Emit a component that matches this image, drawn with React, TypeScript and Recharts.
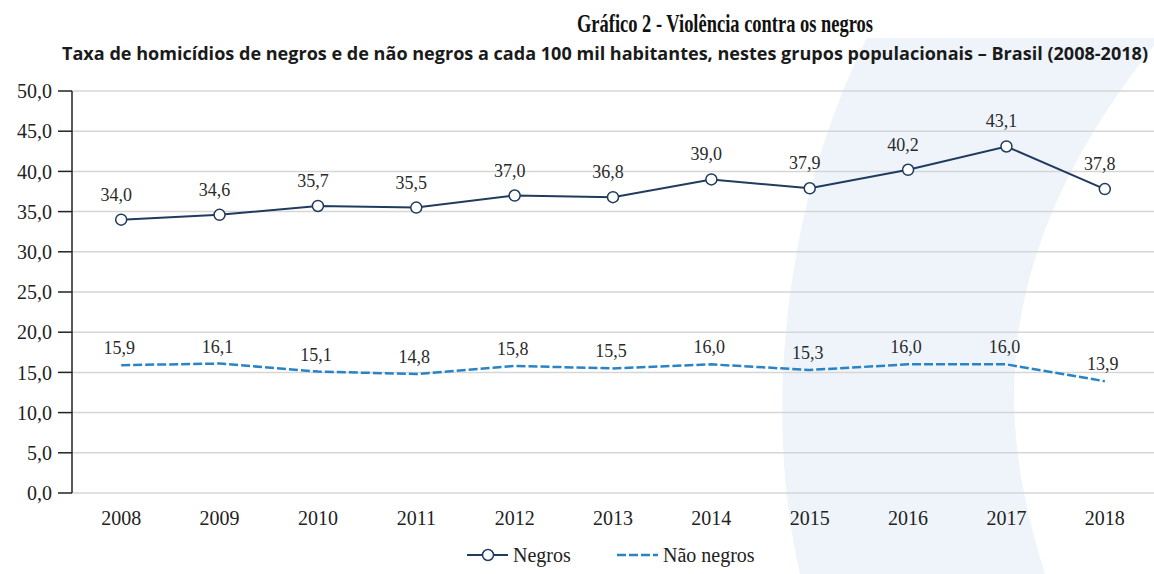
import React from 'react'
import { LineChart, Line, XAxis, YAxis, CartesianGrid, LabelList } from 'recharts'

const years = ['2008', '2009', '2010', '2011', '2012', '2013', '2014', '2015', '2016', '2017', '2018']
const negros = [34.0, 34.6, 35.7, 35.5, 37.0, 36.8, 39.0, 37.9, 40.2, 43.1, 37.8]
const naoNegros = [15.9, 16.1, 15.1, 14.8, 15.8, 15.5, 16.0, 15.3, 16.0, 16.0, 13.9]
const yTicks = [0, 5, 10, 15, 20, 25, 30, 35, 40, 45, 50]
const seriesNames = ['Negros', 'Não negros']

const NAVY = '#203b5e'
const BLUE = '#2a83c4'
const SERIF = '"Liberation Serif", "DejaVu Serif", serif'
const SANS = '"Open Sans", "Noto Sans", sans-serif'

const fmt = (v: number) => v.toFixed(1).replace('.', ',')

// each year sits in the middle of its band: 0.5, 1.5, ...
const data = years.map((y, i) => ({ year: y, idx: i + 0.5, negros: negros[i], naoNegros: naoNegros[i] }))
const bandEdges = years.map((_, i) => i).concat([years.length])
const bandMiddles = years.map((_, i) => i + 0.5)

function makeLabel(dy: number, dx: number) {
  return (props: any) => {
    const { x, y, value } = props
    return (
      <text x={x + dx} y={y - dy} textAnchor="middle" fontFamily={SERIF} fontSize={18} fill="#2a2a2a">
        {fmt(value)}
      </text>
    )
  }
}

export default function App() {
  return (
    <div style={{ position: 'absolute', left: 0, top: 0, width: 1154, height: 574, background: '#fff', overflow: 'hidden' }}>
      <svg width={1154} height={574} style={{ position: 'absolute', left: 0, top: 0 }}>
        {/* decorative crescent in background */}
        <path
          d="M 867 38 C 790 190 760 400 800 574 L 1045 574 C 1000 430 980 260 1160 38 Z"
          fill="#eef4fa"
        />
        <text x={725} y={32} textAnchor="middle" fontFamily={SERIF} fontWeight="bold" fontSize={25} fill="#111"
          textLength={296} lengthAdjust="spacingAndGlyphs">
          Gráfico 2 - Violência contra os negros
        </text>
        <text x={62} y={60} fontFamily={SANS} fontWeight="bold" fontSize={18} fill="#1a1a1a"
          textLength={1086} lengthAdjust="spacingAndGlyphs">
          Taxa de homicídios de negros e de não negros a cada 100 mil habitantes, nestes grupos populacionais – Brasil (2008-2018)
        </text>
      </svg>
      <div style={{ position: 'absolute', left: 0, top: 0 }}>
        <LineChart width={1154} height={574} data={data} margin={{ top: 91, right: 0, bottom: 51, left: 0 }}>
          <CartesianGrid xAxisId="grid" vertical={false} stroke="#d6d6d6" strokeWidth={1.5} />
          <XAxis
            xAxisId="grid"
            dataKey="idx"
            type="number"
            domain={[0, 11]}
            ticks={bandEdges}
            tick={false}
            tickSize={13}
            tickLine={{ stroke: '#222', strokeWidth: 1.5 }}
            axisLine={{ stroke: '#222', strokeWidth: 2 }}
            height={0}
          />
          <XAxis
            xAxisId="lab"
            dataKey="idx"
            type="number"
            domain={[0, 11]}
            ticks={bandMiddles}
            tickFormatter={(v: number) => years[Math.floor(v)]}
            axisLine={false}
            tickLine={false}
            tickSize={0}
            tickMargin={18}
            height={30}
            interval={0}
            tick={{ fontFamily: SERIF, fontSize: 20, fill: '#222' }}
          />
          <YAxis
            domain={[0, 50]}
            ticks={yTicks}
            width={72}
            interval={0}
            tickFormatter={fmt}
            tickSize={14}
            tickMargin={6}
            tickLine={{ stroke: '#222', strokeWidth: 1.5 }}
            axisLine={{ stroke: '#222', strokeWidth: 1.5 }}
            tick={{ fontFamily: SERIF, fontSize: 20, fill: '#222' }}
          />
          <Line
            xAxisId="grid"
            dataKey="naoNegros"
            name={seriesNames[1]}
            stroke={BLUE}
            strokeWidth={2.5}
            strokeDasharray="9 3"
            dot={false}
            isAnimationActive={false}
          >
            <LabelList dataKey="naoNegros" content={makeLabel(11, -2)} />
          </Line>
          <Line
            xAxisId="grid"
            dataKey="negros"
            name={seriesNames[0]}
            stroke={NAVY}
            strokeWidth={2}
            dot={{ r: 5.5, fill: '#fff', stroke: NAVY, strokeWidth: 1.5 }}
            isAnimationActive={false}
          >
            <LabelList dataKey="negros" content={makeLabel(19, -5)} />
          </Line>
        </LineChart>
      </div>
      <svg width={1154} height={574} style={{ position: 'absolute', left: 0, top: 0, pointerEvents: 'none' }}>
        <line x1={467} x2={508} y1={555} y2={555} stroke={NAVY} strokeWidth={2} />
        <circle cx={488} cy={555} r={5.5} fill="#fff" stroke={NAVY} strokeWidth={1.5} />
        <text x={513} y={562} fontFamily={SERIF} fontSize={20} fill="#222">{seriesNames[0]}</text>
        <line x1={617} x2={658} y1={555} y2={555} stroke={BLUE} strokeWidth={2.5} strokeDasharray="9 3" />
        <text x={663} y={562} fontFamily={SERIF} fontSize={20} fill="#222">{seriesNames[1]}</text>
      </svg>
    </div>
  )
}
